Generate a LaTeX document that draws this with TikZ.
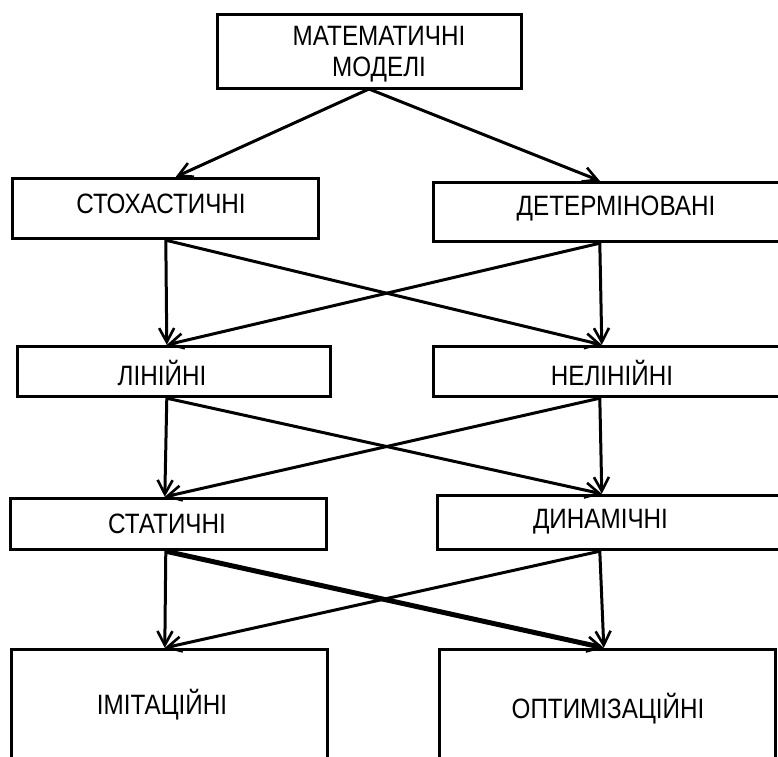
\documentclass[tikz,border=0pt]{standalone}
\usepackage{fontspec}
\usepackage{graphicx}
\setmainfont{Liberation Sans}
\usetikzlibrary{arrows.meta}
\newcommand{\tallt}[1]{\scalebox{0.97}[1.12]{#1}}
\begin{document}
\begin{tikzpicture}[x=1pt,y=-1pt,
  box/.style={draw=black, line width=3.4pt, fill=white, inner sep=0pt},
  lbl/.style={font=\fontsize{25}{31}\selectfont, text=black, align=center, inner sep=0pt},
  conn/.style={line width=3pt, -{Straight Barb[length=14pt,width=15pt,line width=2.6pt]}},
  thickconn/.style={line width=5pt, -{Straight Barb[length=14pt,width=15pt,line width=2.6pt]}}]
\useasboundingbox[fill=white] (0,0) rectangle (778,756);

% boxes
\node[box, minimum width=304pt, minimum height=74pt,
  label={[lbl, name=ttop, xshift=9.5pt, yshift=-2.5pt]center:\tallt{МАТЕМАТИЧНІ}\\\tallt{МОДЕЛІ}}] (top) at (369.5,51.5) {};
\node[box, minimum width=306pt, minimum height=60pt,
  label={[lbl, name=tstoch, xshift=-4.5pt, yshift=4.5pt]center:\tallt{СТОХАСТИЧНІ}}] (stoch) at (165.5,208.5) {};
\node[box, minimum width=355pt, minimum height=59pt,
  label={[lbl, name=tdet, xshift=5pt, yshift=3.5pt]center:\tallt{ДЕТЕРМІНОВАНІ}}] (det) at (611,212) {};
\node[box, minimum width=313pt, minimum height=50pt,
  label={[lbl, name=tlin, xshift=-12pt, yshift=-1pt]center:\tallt{ЛІНІЙНІ}}] (lin) at (174,371.5) {};
\node[box, minimum width=355pt, minimum height=50pt,
  label={[lbl, name=tnelin, xshift=1pt, yshift=-1pt]center:\tallt{НЕЛІНІЙНІ}}] (nelin) at (611,371.5) {};
\node[box, minimum width=316pt, minimum height=51pt,
  label={[lbl, name=tstat, xshift=-1.5pt]center:\tallt{СТАТИЧНІ}}] (stat) at (168.5,524) {};
\node[box, minimum width=351pt, minimum height=54pt,
  label={[lbl, name=tdyn, xshift=-12.5pt, yshift=0.5pt]center:\tallt{ДИНАМІЧНІ}}] (dyn) at (613,522.5) {};
\node[box, minimum width=316pt, minimum height=160pt,
  label={[lbl, name=timit, xshift=-7.5pt, yshift=25pt]center:\tallt{ІМІТАЦІЙНІ}}] (imit) at (169.5,729.5) {};
\node[box, minimum width=336pt, minimum height=160pt,
  label={[lbl, name=topt, xshift=0.5pt, yshift=21pt]center:\tallt{ОПТИМІЗАЦІЙНІ}}] (opt) at (607.5,729.5) {};

% connection points
\coordinate (topout) at (369,89);
\coordinate (stochin) at ([xshift=165pt]stoch.north west);
\coordinate (detin) at ([xshift=168pt]det.north west);
\coordinate (stochout) at ([xshift=155pt]stoch.south west);
\coordinate (detout) at ([xshift=168pt]det.south west);
\coordinate (linin) at ([xshift=151pt]lin.north west);
\coordinate (nelinin) at ([xshift=170pt]nelin.north west);
\coordinate (linout) at ([xshift=151pt]lin.south west);
\coordinate (nelinout) at ([xshift=168pt]nelin.south west);
\coordinate (statin) at ([xshift=156pt]stat.north west);
\coordinate (dynin) at ([xshift=166pt]dyn.north west);
\coordinate (statout) at ([xshift=157pt]stat.south west);
\coordinate (dynout) at ([xshift=164pt]dyn.south west);
\coordinate (imitin) at ([xshift=155pt]imit.north west);
\coordinate (optin) at ([xshift=166pt]opt.north west);

% connectors
\draw[conn] (topout) -- (stochin);
\draw[conn] (topout) -- (detin);
\draw[conn] (stochout) -- (linin);
\draw[conn] (stochout) -- (nelinin);
\draw[conn] (detout) -- (linin);
\draw[conn] (detout) -- (nelinin);
\draw[conn] (linout) -- (statin);
\draw[conn] (linout) -- (dynin);
\draw[conn] (nelinout) -- (statin);
\draw[conn] (nelinout) -- (dynin);
\draw[conn] (statout) -- (imitin);
\draw[thickconn] (statout) -- (optin);
\draw[conn] (dynout) -- (imitin);
\draw[conn] (dynout) -- (optin);
\end{tikzpicture}
\end{document}
